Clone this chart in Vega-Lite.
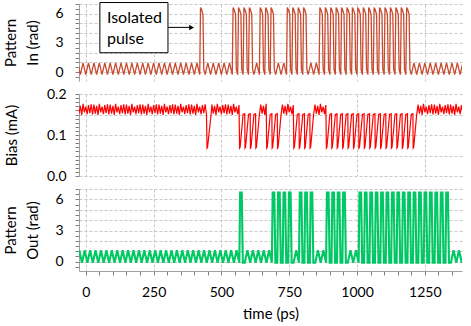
{
"$schema":"https://vega.github.io/schema/vega-lite/v6.json",
"padding":{"left":3,"top":2,"right":9,"bottom":2},
"bounds":"flush",
"spacing":13,
"config":{"font":"Lato","view":{"stroke":null},
"axis":{"labelFont":"Lato","titleFont":"Lato","labelFontSize":14,"titleFontSize":15,"titleFontWeight":"normal","labelColor":"#000","titleColor":"#000","gridColor":"#c8c8c8","gridDash":[3,2],"domainColor":"#a0a0a0","tickColor":"#808080","tickSize":4}},
"datasets":{
"inp":[{"t":-40,"v":-0.25},{"t":-30,"v":0.95},{"t":-20,"v":-0.25},{"t":-10,"v":0.95},{"t":0,"v":-0.25},{"t":10,"v":0.95},{"t":20,"v":-0.25},{"t":30,"v":0.95},{"t":40,"v":-0.25},{"t":50,"v":0.95},{"t":60,"v":-0.25},{"t":70,"v":0.95},{"t":80,"v":-0.25},{"t":90,"v":0.95},{"t":100,"v":-0.25},{"t":110,"v":0.95},{"t":120,"v":-0.25},{"t":130,"v":0.95},{"t":140,"v":-0.25},{"t":150,"v":0.95},{"t":160,"v":-0.25},{"t":170,"v":0.95},{"t":180,"v":-0.25},{"t":190,"v":0.95},{"t":200,"v":-0.25},{"t":210,"v":0.95},{"t":220,"v":-0.25},{"t":230,"v":0.95},{"t":240,"v":-0.25},{"t":250,"v":0.95},{"t":260,"v":-0.25},{"t":270,"v":0.95},{"t":280,"v":-0.25},{"t":290,"v":0.95},{"t":300,"v":-0.25},{"t":310,"v":0.95},{"t":320,"v":-0.25},{"t":330,"v":0.95},{"t":340,"v":-0.25},{"t":350,"v":0.95},{"t":360,"v":-0.25},{"t":370,"v":0.95},{"t":380,"v":-0.25},{"t":390,"v":0.95},{"t":400,"v":-0.25},{"t":410,"v":0.95},
{"t":420,"v":-0.25},{"t":423,"v":6.65},{"t":427,"v":6.4},{"t":432,"v":5.95},{"t":435,"v":0.3},
{"t":440,"v":-0.25},{"t":450,"v":0.95},{"t":460,"v":-0.25},{"t":470,"v":0.95},{"t":480,"v":-0.25},{"t":490,"v":0.95},{"t":500,"v":-0.25},{"t":510,"v":0.95},{"t":520,"v":-0.25},{"t":530,"v":0.95},
{"t":540,"v":-0.25},{"t":543,"v":6.65},{"t":547,"v":6.4},{"t":552,"v":5.95},{"t":555,"v":0.3},
{"t":560,"v":-0.25},{"t":563,"v":6.65},{"t":567,"v":6.4},{"t":572,"v":5.95},{"t":575,"v":0.3},
{"t":580,"v":-0.25},{"t":583,"v":6.65},{"t":587,"v":6.4},{"t":592,"v":5.95},{"t":595,"v":0.3},
{"t":600,"v":-0.25},{"t":603,"v":6.65},{"t":607,"v":6.4},{"t":612,"v":5.95},{"t":615,"v":0.3},
{"t":620,"v":-0.25},{"t":630,"v":0.95},
{"t":640,"v":-0.25},{"t":643,"v":6.65},{"t":647,"v":6.4},{"t":652,"v":5.95},{"t":655,"v":0.3},
{"t":660,"v":-0.25},{"t":663,"v":6.65},{"t":667,"v":6.4},{"t":672,"v":5.95},{"t":675,"v":0.3},
{"t":680,"v":-0.25},{"t":683,"v":6.65},{"t":687,"v":6.4},{"t":692,"v":5.95},{"t":695,"v":0.3},
{"t":700,"v":-0.25},{"t":710,"v":0.95},{"t":720,"v":-0.25},{"t":730,"v":0.95},
{"t":740,"v":-0.25},{"t":743,"v":6.65},{"t":747,"v":6.4},{"t":752,"v":5.95},{"t":755,"v":0.3},
{"t":760,"v":-0.25},{"t":763,"v":6.65},{"t":767,"v":6.4},{"t":772,"v":5.95},{"t":775,"v":0.3},
{"t":780,"v":-0.25},{"t":783,"v":6.65},{"t":787,"v":6.4},{"t":792,"v":5.95},{"t":795,"v":0.3},
{"t":800,"v":-0.25},{"t":803,"v":6.65},{"t":807,"v":6.4},{"t":812,"v":5.95},{"t":815,"v":0.3},
{"t":820,"v":-0.25},{"t":830,"v":0.95},{"t":840,"v":-0.25},{"t":850,"v":0.95},
{"t":860,"v":-0.25},{"t":863,"v":6.65},{"t":867,"v":6.4},{"t":872,"v":5.95},{"t":875,"v":0.3},
{"t":880,"v":-0.25},{"t":883,"v":6.65},{"t":887,"v":6.4},{"t":892,"v":5.95},{"t":895,"v":0.3},
{"t":900,"v":-0.25},{"t":903,"v":6.65},{"t":907,"v":6.4},{"t":912,"v":5.95},{"t":915,"v":0.3},
{"t":920,"v":-0.25},{"t":923,"v":6.65},{"t":927,"v":6.4},{"t":932,"v":5.95},{"t":935,"v":0.3},
{"t":940,"v":-0.25},{"t":943,"v":6.65},{"t":947,"v":6.4},{"t":952,"v":5.95},{"t":955,"v":0.3},
{"t":960,"v":-0.25},{"t":963,"v":6.65},{"t":967,"v":6.4},{"t":972,"v":5.95},{"t":975,"v":0.3},
{"t":980,"v":-0.25},{"t":983,"v":6.65},{"t":987,"v":6.4},{"t":992,"v":5.95},{"t":995,"v":0.3},
{"t":1000,"v":-0.25},{"t":1003,"v":6.65},{"t":1007,"v":6.4},{"t":1012,"v":5.95},{"t":1015,"v":0.3},
{"t":1020,"v":-0.25},{"t":1023,"v":6.65},{"t":1027,"v":6.4},{"t":1032,"v":5.95},{"t":1035,"v":0.3},
{"t":1040,"v":-0.25},{"t":1043,"v":6.65},{"t":1047,"v":6.4},{"t":1052,"v":5.95},{"t":1055,"v":0.3},
{"t":1060,"v":-0.25},{"t":1063,"v":6.65},{"t":1067,"v":6.4},{"t":1072,"v":5.95},{"t":1075,"v":0.3},
{"t":1080,"v":-0.25},{"t":1083,"v":6.65},{"t":1087,"v":6.4},{"t":1092,"v":5.95},{"t":1095,"v":0.3},
{"t":1100,"v":-0.25},{"t":1103,"v":6.65},{"t":1107,"v":6.4},{"t":1112,"v":5.95},{"t":1115,"v":0.3},
{"t":1120,"v":-0.25},{"t":1123,"v":6.65},{"t":1127,"v":6.4},{"t":1132,"v":5.95},{"t":1135,"v":0.3},
{"t":1140,"v":-0.25},{"t":1143,"v":6.65},{"t":1147,"v":6.4},{"t":1152,"v":5.95},{"t":1155,"v":0.3},
{"t":1160,"v":-0.25},{"t":1163,"v":6.65},{"t":1167,"v":6.4},{"t":1172,"v":5.95},{"t":1175,"v":0.3},
{"t":1180,"v":-0.25},{"t":1183,"v":6.65},{"t":1187,"v":6.4},{"t":1192,"v":5.95},{"t":1195,"v":0.3},
{"t":1200,"v":-0.25},{"t":1210,"v":0.95},{"t":1220,"v":-0.25},{"t":1230,"v":0.95},{"t":1240,"v":-0.25},{"t":1250,"v":0.95},{"t":1260,"v":-0.25},{"t":1270,"v":0.95},{"t":1280,"v":-0.25},{"t":1290,"v":0.95},{"t":1300,"v":-0.25},{"t":1310,"v":0.95},{"t":1320,"v":-0.25},{"t":1330,"v":0.95},{"t":1340,"v":-0.25},{"t":1350,"v":0.95},{"t":1360,"v":-0.25},{"t":1370,"v":0.95},{"t":1380,"v":-0.25},{"t":1390,"v":0.95},{"t":1400,"v":-0.25}],
"outp":[{"t":-34,"v":-0.1},{"t":-24,"v":1.1},{"t":-14,"v":-0.1},{"t":-4,"v":1.1},{"t":6,"v":-0.1},{"t":16,"v":1.1},{"t":26,"v":-0.1},{"t":36,"v":1.1},{"t":46,"v":-0.1},{"t":56,"v":1.1},{"t":66,"v":-0.1},{"t":76,"v":1.1},{"t":86,"v":-0.1},{"t":96,"v":1.1},{"t":106,"v":-0.1},{"t":116,"v":1.1},{"t":126,"v":-0.1},{"t":136,"v":1.1},{"t":146,"v":-0.1},{"t":156,"v":1.1},{"t":166,"v":-0.1},{"t":176,"v":1.1},{"t":186,"v":-0.1},{"t":196,"v":1.1},{"t":206,"v":-0.1},{"t":216,"v":1.1},{"t":226,"v":-0.1},{"t":236,"v":1.1},{"t":246,"v":-0.1},{"t":256,"v":1.1},{"t":266,"v":-0.1},{"t":276,"v":1.1},{"t":286,"v":-0.1},{"t":296,"v":1.1},{"t":306,"v":-0.1},{"t":316,"v":1.1},{"t":326,"v":-0.1},{"t":336,"v":1.1},{"t":346,"v":-0.1},{"t":356,"v":1.1},{"t":366,"v":-0.1},{"t":376,"v":1.1},{"t":386,"v":-0.1},{"t":396,"v":1.1},{"t":406,"v":-0.1},{"t":416,"v":1.1},{"t":426,"v":-0.1},{"t":436,"v":1.1},{"t":446,"v":-0.1},{"t":456,"v":1.1},{"t":466,"v":-0.1},{"t":476,"v":1.1},{"t":486,"v":-0.1},{"t":496,"v":1.1},{"t":506,"v":-0.1},{"t":516,"v":1.1},{"t":526,"v":-0.1},{"t":536,"v":1.1},{"t":546,"v":-0.1},{"t":556,"v":1.1},
{"t":566,"v":-0.1},{"t":569,"v":6.65},{"t":575,"v":6.65},{"t":579,"v":-0.1},
{"t":586,"v":-0.1},{"t":596,"v":1.1},{"t":606,"v":-0.1},{"t":616,"v":1.1},{"t":626,"v":-0.1},{"t":636,"v":1.1},{"t":646,"v":-0.1},{"t":656,"v":1.1},{"t":666,"v":-0.1},{"t":676,"v":1.1},
{"t":686,"v":-0.1},{"t":689,"v":6.65},{"t":695,"v":6.65},{"t":699,"v":-0.1},
{"t":706,"v":-0.1},{"t":709,"v":6.65},{"t":715,"v":6.65},{"t":719,"v":-0.1},
{"t":726,"v":-0.1},{"t":729,"v":6.65},{"t":735,"v":6.65},{"t":739,"v":-0.1},
{"t":746,"v":-0.1},{"t":749,"v":6.65},{"t":755,"v":6.65},{"t":759,"v":-0.1},
{"t":766,"v":-0.1},{"t":776,"v":1.1},
{"t":786,"v":-0.1},{"t":789,"v":6.65},{"t":795,"v":6.65},{"t":799,"v":-0.1},
{"t":806,"v":-0.1},{"t":809,"v":6.65},{"t":815,"v":6.65},{"t":819,"v":-0.1},
{"t":826,"v":-0.1},{"t":829,"v":6.65},{"t":835,"v":6.65},{"t":839,"v":-0.1},
{"t":846,"v":-0.1},{"t":856,"v":1.1},{"t":866,"v":-0.1},{"t":876,"v":1.1},
{"t":886,"v":-0.1},{"t":889,"v":6.65},{"t":895,"v":6.65},{"t":899,"v":-0.1},
{"t":906,"v":-0.1},{"t":909,"v":6.65},{"t":915,"v":6.65},{"t":919,"v":-0.1},
{"t":926,"v":-0.1},{"t":929,"v":6.65},{"t":935,"v":6.65},{"t":939,"v":-0.1},
{"t":946,"v":-0.1},{"t":949,"v":6.65},{"t":955,"v":6.65},{"t":959,"v":-0.1},
{"t":966,"v":-0.1},{"t":976,"v":1.1},{"t":986,"v":-0.1},{"t":996,"v":1.1},
{"t":1006,"v":-0.1},{"t":1009,"v":6.65},{"t":1015,"v":6.65},{"t":1019,"v":-0.1},
{"t":1026,"v":-0.1},{"t":1029,"v":6.65},{"t":1035,"v":6.65},{"t":1039,"v":-0.1},
{"t":1046,"v":-0.1},{"t":1049,"v":6.65},{"t":1055,"v":6.65},{"t":1059,"v":-0.1},
{"t":1066,"v":-0.1},{"t":1069,"v":6.65},{"t":1075,"v":6.65},{"t":1079,"v":-0.1},
{"t":1086,"v":-0.1},{"t":1089,"v":6.65},{"t":1095,"v":6.65},{"t":1099,"v":-0.1},
{"t":1106,"v":-0.1},{"t":1109,"v":6.65},{"t":1115,"v":6.65},{"t":1119,"v":-0.1},
{"t":1126,"v":-0.1},{"t":1129,"v":6.65},{"t":1135,"v":6.65},{"t":1139,"v":-0.1},
{"t":1146,"v":-0.1},{"t":1149,"v":6.65},{"t":1155,"v":6.65},{"t":1159,"v":-0.1},
{"t":1166,"v":-0.1},{"t":1169,"v":6.65},{"t":1175,"v":6.65},{"t":1179,"v":-0.1},
{"t":1186,"v":-0.1},{"t":1189,"v":6.65},{"t":1195,"v":6.65},{"t":1199,"v":-0.1},
{"t":1206,"v":-0.1},{"t":1209,"v":6.65},{"t":1215,"v":6.65},{"t":1219,"v":-0.1},
{"t":1226,"v":-0.1},{"t":1229,"v":6.65},{"t":1235,"v":6.65},{"t":1239,"v":-0.1},
{"t":1246,"v":-0.1},{"t":1249,"v":6.65},{"t":1255,"v":6.65},{"t":1259,"v":-0.1},
{"t":1266,"v":-0.1},{"t":1269,"v":6.65},{"t":1275,"v":6.65},{"t":1279,"v":-0.1},
{"t":1286,"v":-0.1},{"t":1289,"v":6.65},{"t":1295,"v":6.65},{"t":1299,"v":-0.1},
{"t":1306,"v":-0.1},{"t":1309,"v":6.65},{"t":1315,"v":6.65},{"t":1319,"v":-0.1},
{"t":1326,"v":-0.1},{"t":1329,"v":6.65},{"t":1335,"v":6.65},{"t":1339,"v":-0.1},
{"t":1346,"v":-0.1},{"t":1356,"v":1.1},{"t":1366,"v":-0.1},{"t":1376,"v":1.1},{"t":1386,"v":-0.1},{"t":1396,"v":1.1},{"t":1406,"v":-0.1}],
"bias":[{"t":-30,"v":0.174},{"t":-25,"v":0.152},{"t":-20,"v":0.171},{"t":-15,"v":0.149},{"t":-10,"v":0.176},{"t":-5,"v":0.155},{"t":0,"v":0.169},{"t":5,"v":0.151},{"t":10,"v":0.173},{"t":15,"v":0.153},{"t":20,"v":0.175},{"t":25,"v":0.150},
{"t":30,"v":0.174},{"t":35,"v":0.152},{"t":40,"v":0.171},{"t":45,"v":0.149},{"t":50,"v":0.176},{"t":55,"v":0.155},{"t":60,"v":0.169},{"t":65,"v":0.151},{"t":70,"v":0.173},{"t":75,"v":0.153},{"t":80,"v":0.175},{"t":85,"v":0.150},
{"t":90,"v":0.174},{"t":95,"v":0.152},{"t":100,"v":0.171},{"t":105,"v":0.149},{"t":110,"v":0.176},{"t":115,"v":0.155},{"t":120,"v":0.169},{"t":125,"v":0.151},{"t":130,"v":0.173},{"t":135,"v":0.153},{"t":140,"v":0.175},{"t":145,"v":0.150},
{"t":150,"v":0.174},{"t":155,"v":0.152},{"t":160,"v":0.171},{"t":165,"v":0.149},{"t":170,"v":0.176},{"t":175,"v":0.155},{"t":180,"v":0.169},{"t":185,"v":0.151},{"t":190,"v":0.173},{"t":195,"v":0.153},{"t":200,"v":0.175},{"t":205,"v":0.150},
{"t":210,"v":0.174},{"t":215,"v":0.152},{"t":220,"v":0.171},{"t":225,"v":0.149},{"t":230,"v":0.176},{"t":235,"v":0.155},{"t":240,"v":0.169},{"t":245,"v":0.151},{"t":250,"v":0.173},{"t":255,"v":0.153},{"t":260,"v":0.175},{"t":265,"v":0.150},
{"t":270,"v":0.174},{"t":275,"v":0.152},{"t":280,"v":0.171},{"t":285,"v":0.149},{"t":290,"v":0.176},{"t":295,"v":0.155},{"t":300,"v":0.169},{"t":305,"v":0.151},{"t":310,"v":0.173},{"t":315,"v":0.153},{"t":320,"v":0.175},{"t":325,"v":0.150},
{"t":330,"v":0.174},{"t":335,"v":0.152},{"t":340,"v":0.171},{"t":345,"v":0.149},{"t":350,"v":0.176},{"t":355,"v":0.155},{"t":360,"v":0.169},{"t":365,"v":0.151},{"t":370,"v":0.173},{"t":375,"v":0.153},{"t":380,"v":0.175},{"t":385,"v":0.150},
{"t":390,"v":0.174},{"t":395,"v":0.152},{"t":400,"v":0.171},{"t":405,"v":0.149},{"t":410,"v":0.176},{"t":415,"v":0.155},{"t":420,"v":0.169},{"t":425,"v":0.151},{"t":430,"v":0.173},{"t":435,"v":0.153},{"t":440,"v":0.175},{"t":445,"v":0.150},
{"t":447,"v":0.068},{"t":449,"v":0.070},{"t":462,"v":0.150},
{"t":465,"v":0.174},{"t":470,"v":0.152},{"t":475,"v":0.171},{"t":480,"v":0.149},{"t":485,"v":0.176},{"t":490,"v":0.155},{"t":495,"v":0.169},{"t":500,"v":0.151},{"t":505,"v":0.173},{"t":510,"v":0.153},{"t":515,"v":0.175},{"t":520,"v":0.150},
{"t":525,"v":0.174},{"t":530,"v":0.152},{"t":535,"v":0.171},{"t":540,"v":0.149},{"t":545,"v":0.176},{"t":550,"v":0.155},{"t":555,"v":0.169},{"t":560,"v":0.151},{"t":565,"v":0.173},
{"t":567,"v":0.068},{"t":569,"v":0.070},{"t":580,"v":0.150},{"t":586,"v":0.152},
{"t":587,"v":0.068},{"t":589,"v":0.070},{"t":600,"v":0.150},{"t":606,"v":0.152},
{"t":607,"v":0.068},{"t":609,"v":0.070},{"t":620,"v":0.150},{"t":626,"v":0.152},
{"t":627,"v":0.068},{"t":629,"v":0.070},{"t":640,"v":0.150},
{"t":645,"v":0.174},{"t":650,"v":0.152},{"t":655,"v":0.171},{"t":660,"v":0.149},{"t":665,"v":0.176},
{"t":667,"v":0.068},{"t":669,"v":0.070},{"t":680,"v":0.150},{"t":686,"v":0.152},
{"t":687,"v":0.068},{"t":689,"v":0.070},{"t":700,"v":0.150},{"t":706,"v":0.152},
{"t":707,"v":0.068},{"t":709,"v":0.070},{"t":720,"v":0.150},
{"t":725,"v":0.174},{"t":730,"v":0.152},{"t":735,"v":0.171},{"t":740,"v":0.149},{"t":745,"v":0.176},{"t":750,"v":0.155},{"t":755,"v":0.169},{"t":760,"v":0.151},{"t":765,"v":0.173},
{"t":767,"v":0.068},{"t":769,"v":0.070},{"t":780,"v":0.150},{"t":786,"v":0.152},
{"t":787,"v":0.068},{"t":789,"v":0.070},{"t":800,"v":0.150},{"t":806,"v":0.152},
{"t":807,"v":0.068},{"t":809,"v":0.070},{"t":820,"v":0.150},{"t":826,"v":0.152},
{"t":827,"v":0.068},{"t":829,"v":0.070},{"t":840,"v":0.150},
{"t":845,"v":0.174},{"t":850,"v":0.152},{"t":855,"v":0.171},{"t":860,"v":0.149},{"t":865,"v":0.176},{"t":870,"v":0.155},{"t":875,"v":0.169},{"t":880,"v":0.151},{"t":885,"v":0.173},
{"t":887,"v":0.068},{"t":889,"v":0.070},{"t":900,"v":0.150},{"t":906,"v":0.152},
{"t":907,"v":0.068},{"t":909,"v":0.070},{"t":920,"v":0.150},{"t":926,"v":0.152},
{"t":927,"v":0.068},{"t":929,"v":0.070},{"t":940,"v":0.150},{"t":946,"v":0.152},
{"t":947,"v":0.068},{"t":949,"v":0.070},{"t":960,"v":0.150},{"t":966,"v":0.152},
{"t":967,"v":0.068},{"t":969,"v":0.070},{"t":980,"v":0.150},{"t":986,"v":0.152},
{"t":987,"v":0.068},{"t":989,"v":0.070},{"t":1000,"v":0.150},{"t":1006,"v":0.152},
{"t":1007,"v":0.068},{"t":1009,"v":0.070},{"t":1020,"v":0.150},{"t":1026,"v":0.152},
{"t":1027,"v":0.068},{"t":1029,"v":0.070},{"t":1040,"v":0.150},{"t":1046,"v":0.152},
{"t":1047,"v":0.068},{"t":1049,"v":0.070},{"t":1060,"v":0.150},{"t":1066,"v":0.152},
{"t":1067,"v":0.068},{"t":1069,"v":0.070},{"t":1080,"v":0.150},{"t":1086,"v":0.152},
{"t":1087,"v":0.068},{"t":1089,"v":0.070},{"t":1100,"v":0.150},{"t":1106,"v":0.152},
{"t":1107,"v":0.068},{"t":1109,"v":0.070},{"t":1120,"v":0.150},{"t":1126,"v":0.152},
{"t":1127,"v":0.068},{"t":1129,"v":0.070},{"t":1140,"v":0.150},{"t":1146,"v":0.152},
{"t":1147,"v":0.068},{"t":1149,"v":0.070},{"t":1160,"v":0.150},{"t":1166,"v":0.152},
{"t":1167,"v":0.068},{"t":1169,"v":0.070},{"t":1180,"v":0.150},{"t":1186,"v":0.152},
{"t":1187,"v":0.068},{"t":1189,"v":0.070},{"t":1200,"v":0.150},{"t":1206,"v":0.152},
{"t":1207,"v":0.068},{"t":1209,"v":0.070},{"t":1220,"v":0.150},
{"t":1225,"v":0.174},{"t":1230,"v":0.152},{"t":1235,"v":0.171},{"t":1240,"v":0.149},{"t":1245,"v":0.176},{"t":1250,"v":0.155},{"t":1255,"v":0.169},{"t":1260,"v":0.151},{"t":1265,"v":0.173},{"t":1270,"v":0.153},{"t":1275,"v":0.175},{"t":1280,"v":0.150},
{"t":1285,"v":0.174},{"t":1290,"v":0.152},{"t":1295,"v":0.171},{"t":1300,"v":0.149},{"t":1305,"v":0.176},{"t":1310,"v":0.155},{"t":1315,"v":0.169},{"t":1320,"v":0.151},{"t":1325,"v":0.173},{"t":1330,"v":0.153},{"t":1335,"v":0.175},{"t":1340,"v":0.150},
{"t":1345,"v":0.174},{"t":1350,"v":0.152},{"t":1355,"v":0.171},{"t":1360,"v":0.149},{"t":1365,"v":0.176},{"t":1370,"v":0.155},{"t":1375,"v":0.169},{"t":1380,"v":0.151},{"t":1385,"v":0.173},{"t":1390,"v":0.153},{"t":1395,"v":0.175}]
},
"vconcat":[
{"width":383,"height":77,
"resolve":{"axis":{"x":"independent","y":"independent"}},
"layer":[
{"data":{"name":"inp"},"mark":{"type":"line","color":"#c84b2f","strokeWidth":1.3,"clip":true},
"encoding":{"x":{"field":"t","type":"quantitative","scale":{"domain":[-25,1387],"nice":false,"zero":false},"axis":{"title":null,"values":[0,250,500,750,1000,1250],"labels":false,"ticks":false,"domain":false}},
"y":{"field":"v","type":"quantitative","scale":{"domain":[-0.9,7],"nice":false,"zero":false},"axis":{"title":["Pattern","In (rad)"],"values":[-0.5,0,0.5,1,1.5,2,2.5,3,3.5,4,4.5,5,5.5,6,6.5,7],"labelExpr":"datum.value % 3 === 0 ? format(datum.value, 'd') : ''","gridOpacity":{"condition":{"test":"datum.value % 1 !== 0","value":0},"value":1},"labelPadding":12,"titleAngle":-90,"titleX":-76,"titleY":38.5,"titleAlign":"center","titleBaseline":"top","titleLineHeight":22}}}},
{"data":{"values":[{}]},"mark":{"type":"rect","fill":"white","stroke":"black","strokeWidth":1,"clip":false},
"encoding":{"x":{"datum":52,"type":"quantitative","axis":null},"x2":{"datum":303},"y":{"datum":7.15,"type":"quantitative","axis":null},"y2":{"datum":2.0}}},
{"data":{"values":[{}]},"mark":{"type":"text","text":"Isolated","align":"left","baseline":"alphabetic","fontSize":16,"font":"Lato","color":"black"},
"encoding":{"x":{"datum":78,"type":"quantitative","axis":null},"y":{"datum":5.05,"type":"quantitative","axis":null}}},
{"data":{"values":[{}]},"mark":{"type":"text","text":"pulse","align":"left","baseline":"alphabetic","fontSize":16,"font":"Lato","color":"black"},
"encoding":{"x":{"datum":78,"type":"quantitative","axis":null},"y":{"datum":2.9,"type":"quantitative","axis":null}}},
{"data":{"values":[{}]},"mark":{"type":"rule","color":"black","strokeWidth":1},
"encoding":{"x":{"datum":303,"type":"quantitative","axis":null},"x2":{"datum":388},"y":{"datum":4.6,"type":"quantitative","axis":null}}},
{"data":{"values":[{}]},"mark":{"type":"point","shape":"triangle-right","filled":true,"color":"black","size":30,"opacity":1},
"encoding":{"x":{"datum":390,"type":"quantitative","axis":null},"y":{"datum":4.6,"type":"quantitative","axis":null}}}
]},
{"width":383,"height":82,"data":{"name":"bias"},
"mark":{"type":"line","color":"#ff0000","strokeWidth":1.2,"clip":true},
"encoding":{"x":{"field":"t","type":"quantitative","scale":{"domain":[-25,1387],"nice":false,"zero":false},"axis":{"title":null,"values":[0,250,500,750,1000,1250],"labels":false,"ticks":false,"domain":false}},
"y":{"field":"v","type":"quantitative","scale":{"domain":[0,0.2],"nice":false},"axis":{"title":"Bias (mA)","values":[0,0.01,0.02,0.03,0.04,0.05,0.06,0.07,0.08,0.09,0.1,0.11,0.12,0.13,0.14,0.15,0.16,0.17,0.18,0.19,0.2],"labelExpr":"round(datum.value*100) % 10 === 0 ? format(datum.value, '.1f') : ''","gridOpacity":{"condition":{"test":"round(datum.value*100) % 5 !== 0","value":0},"value":1},"labelPadding":9,"titleAngle":-90,"titleX":-75,"titleY":41,"titleAlign":"center","titleBaseline":"top"}}}},
{"width":383,"height":82,"data":{"name":"outp"},
"mark":{"type":"line","color":"#00c864","strokeWidth":2.1,"clip":true},
"encoding":{"x":{"field":"t","type":"quantitative","scale":{"domain":[-25,1387],"nice":false,"zero":false},"axis":{"title":"time (ps)","values":[0,50,100,150,200,250,300,350,400,450,500,550,600,650,700,750,800,850,900,950,1000,1050,1100,1150,1200,1250,1300,1350],"labelExpr":"datum.value % 250 === 0 ? format(datum.value, 'd') : ''","gridOpacity":{"condition":{"test":"datum.value % 250 !== 0","value":0},"value":1},"labelPadding":10,"titlePadding":7}},
"y":{"field":"v","type":"quantitative","scale":{"domain":[-0.9,7],"nice":false,"zero":false},"axis":{"title":["Pattern","Out (rad)"],"values":[-0.5,0,0.5,1,1.5,2,2.5,3,3.5,4,4.5,5,5.5,6,6.5,7],"labelExpr":"datum.value % 3 === 0 ? format(datum.value, 'd') : ''","gridOpacity":{"condition":{"test":"datum.value % 1 !== 0","value":0},"value":1},"labelPadding":12,"titleAngle":-90,"titleX":-76,"titleY":41,"titleAlign":"center","titleBaseline":"top","titleLineHeight":22}}}}
]
}
